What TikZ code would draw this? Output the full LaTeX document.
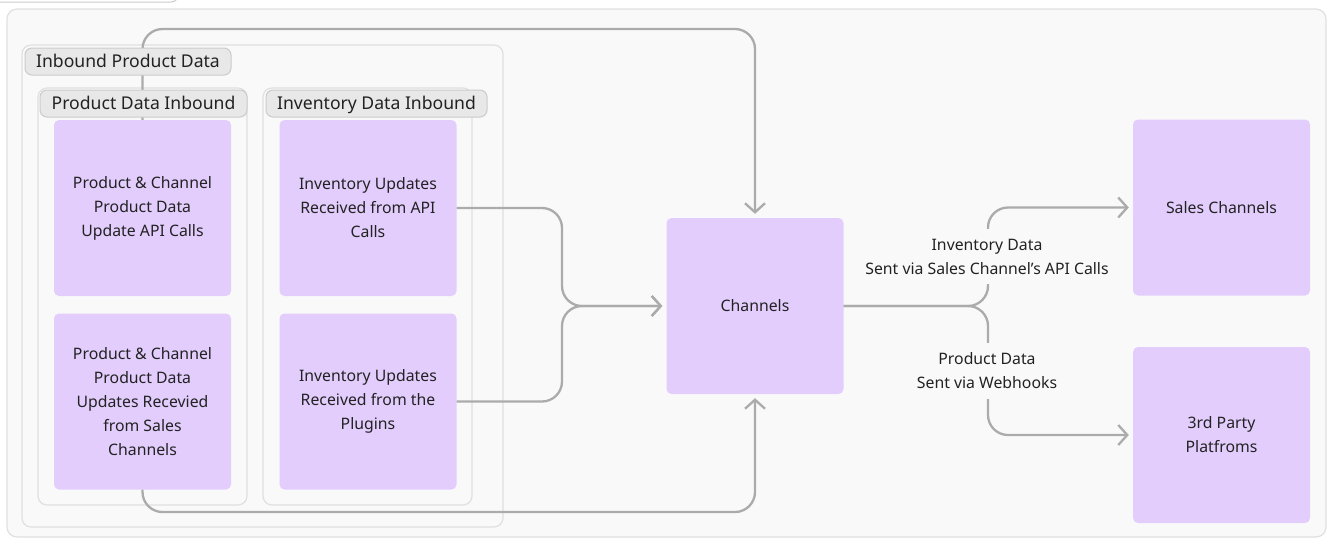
\documentclass[tikz,border=0pt]{standalone}
\usepackage{fontspec}
\setmainfont{Noto Sans}
\usetikzlibrary{arrows.meta}
\definecolor{bgc}{HTML}{F9F9F9}
\definecolor{grpline}{HTML}{E0E0E0}
\definecolor{lblfill}{HTML}{E8E8E8}
\definecolor{lblline}{HTML}{CBCBCB}
\definecolor{purp}{HTML}{E3CDFD}
\definecolor{conncol}{HTML}{ABABAB}
\definecolor{txt}{HTML}{222222}
\tikzset{
  box/.style={fill=purp, rounded corners=5pt, minimum width=177pt, minimum height=176pt,
    align=center, text=txt, font=\fontsize{15.8}{24}\selectfont, inner sep=0pt},
  grp/.style={draw=grpline, line width=1.2pt, rounded corners=9pt, inner sep=0pt},
  lbl/.style={draw=lblline, fill=lblfill, line width=1pt, rounded corners=7pt, minimum height=27pt,
    font=\fontsize{17.6}{20}\selectfont, text=txt, inner sep=0pt, text height=16.4pt, text depth=4pt},
  link/.style={draw=conncol, line width=2.3pt, rounded corners=20pt,
    -{Straight Barb[length=9pt,width=20pt]}, shorten >=4pt},
  edgelbl/.style={fill=bgc, align=center, text=txt, font=\fontsize{15.8}{24}\selectfont,
    inner xsep=4pt, inner ysep=10pt}
}
\begin{document}
\begin{tikzpicture}[x=1pt,y=-1pt]
\useasboundingbox (0,0) rectangle (1328,539);
% outer container
\draw[draw=grpline, fill=bgc, line width=1.2pt, rounded corners=10pt] (7,9) rectangle (1326,537);
% clipped label at top
\draw[draw=lblline, fill=white, line width=1pt, rounded corners=7pt] (-20,-30) rectangle (178,2);
% groups
\node[grp, minimum width=481pt, minimum height=482pt] (gin) at (262.5,286) {};
\node[grp, minimum width=209pt, minimum height=417pt] (gprod) at (142.5,296.5) {};
\node[grp, minimum width=209pt, minimum height=417pt] (ginv) at (367.5,296.5) {};
% boxes
\node[box] (p1) at (142.5,208) {Product \& Channel\\Product Data\\Update API Calls};
\node[box] (p2) at (142.5,401.5) {Product \& Channel\\Product Data\\Updates Recevied\\from Sales\\Channels};
\node[box] (i1) at (368,208) {Inventory Updates\\Received from API\\Calls};
\node[box] (i2) at (368,401.5) {Inventory Updates\\Received from the\\Plugins};
\node[box] (ch) at (755,306) {Channels};
\node[box] (sales) at (1221.5,207.5) {Sales Channels};
\node[box] (third) at (1221.5,435) {3rd Party\\Platfroms};
% connectors
\draw[link] (p1.north) -- (p1.north |- 0,29) -| (ch.north);
\draw[link] (p2.south) -- (p2.south |- 0,512) -| (ch.south);
\draw[link] (i1.east) -| (562,306) -- (ch.west);
\draw[link] (i2.east) -| (562,306) -- (ch.west);
\draw[link] (ch.east) -- (988,306) |- (sales.west);
\draw[link] (ch.east) -- (988,306) |- (third.west);
% group labels
\node[lbl, minimum width=206pt] (lin) at (128,61.5) {Inbound Product Data};
\node[lbl, minimum width=207pt] (lprod) at (143.5,103.5) {Product Data Inbound};
\node[lbl, minimum width=221pt] (linv) at (376.5,103.5) {Inventory Data Inbound};
% edge labels
\node[edgelbl] (e1) at (987,256.5) {Inventory Data\\Sent via Sales Channel’s API Calls};
\node[edgelbl] (e2) at (987,371) {Product Data\\Sent via Webhooks};
\end{tikzpicture}
\end{document}
